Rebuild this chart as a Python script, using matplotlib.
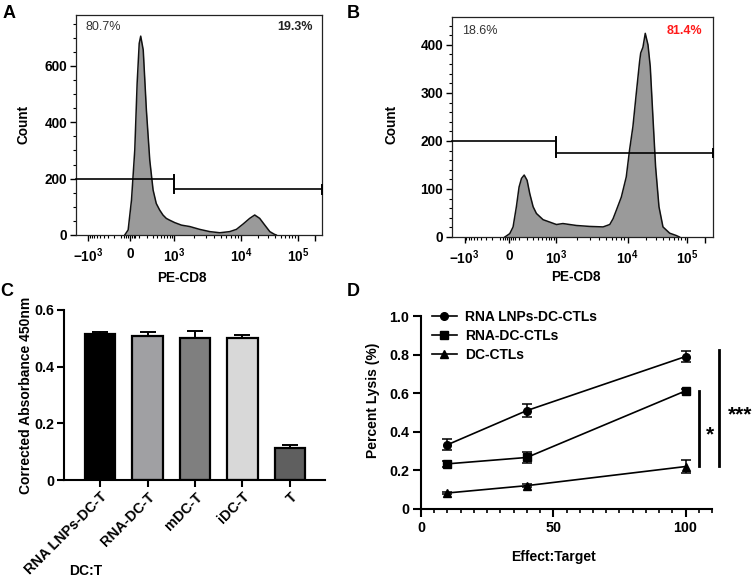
import numpy as np
import matplotlib
matplotlib.use('Agg')
import matplotlib.pyplot as plt
from matplotlib.ticker import FixedLocator, MultipleLocator

plt.rcParams['font.family'] = ['Liberation Sans', 'DejaVu Sans']
plt.rcParams['font.weight'] = 'bold'
plt.rcParams['axes.labelweight'] = 'bold'
plt.rcParams['mathtext.fontset'] = 'custom'
plt.rcParams['mathtext.rm'] = 'Liberation Sans:bold'
plt.rcParams['mathtext.bf'] = 'Liberation Sans:bold'
plt.rcParams['mathtext.it'] = 'Liberation Sans:bold:italic'

# --- data -------------------------------------------------------------
# A: PE-CD8 histogram, control
a_pe = [-56, -18, 18, 53, 79, 103, 121, 153, 197, 250, 310, 376, 457, 552, 664,
        789, 1030, 1300, 1730, 2420, 3410, 4800, 6710, 8430, 10700, 14000,
        17200, 21100, 26000, 31900, 38900, 41600]
a_count = [0, 18, 124, 302, 538, 680, 706, 657, 444, 266, 160, 112, 89, 71, 59,
           53, 44, 35, 30, 20, 12, 8, 12, 20, 39, 59, 71, 59, 35, 12, 2, 0]
a_pct = ['80.7%', '19.3%']

# B: PE-CD8 histogram, RNA LNPs
b_pe = [-44, 7, 40, 74, 103, 131, 164, 203, 243, 298, 361, 520, 737, 1020, 1260,
        1940, 2980, 4570, 5660, 6290, 7000, 8190, 9590, 10800, 12300, 14000,
        15900, 16600, 18100, 19800, 22000, 24000, 26600, 29500, 33600, 39200,
        50700, 65700, 74100]
b_count = [0, 7, 21, 63, 104, 122, 129, 118, 90, 63, 49, 36, 31, 26, 28,
           24, 22, 21, 26, 38, 56, 83, 125, 181, 230, 299,
           365, 383, 395, 424, 400, 355, 250, 146, 63, 21,
           8, 3, 0]
b_pct = ['18.6%', '81.4%']

# C: corrected absorbance
c_groups = ['RNA LNPs-DC-T', 'RNA-DC-T', 'mDC-T', 'iDC-T', 'T']
c_mean = [0.515, 0.510, 0.500, 0.500, 0.113]
c_err = [0.007, 0.012, 0.025, 0.013, 0.011]
c_colors = ['#000000', '#a0a0a3', '#7f7f7f', '#d8d8d8', '#5f5f5f']

# D: percent lysis
d_ratio = [10, 40, 100]
d_lnp = [0.333, 0.510, 0.790]
d_lnp_err = [0.028, 0.032, 0.028]
d_rna = [0.234, 0.267, 0.612]
d_rna_err = [0.015, 0.030, 0.010]
d_dc = [0.083, 0.121, 0.220]
d_dc_err = [0.005, 0.008, 0.035]

# --- flow cytometry (biexponential-like) scale -------------------------
KV = np.array([-1e4, -1e3, 0, 1e3, 1e4, 1e5, 1e6])
KU = np.array([-0.322, 0.0, 0.2, 0.41, 0.732, 1.0, 1.268])
KA = np.arcsinh(KV / 200.0)


def fwd(x):
    return np.interp(np.arcsinh(np.asarray(x, dtype=float) / 200.0), KA, KU)


def inv(u):
    return 200.0 * np.sinh(np.interp(np.asarray(u, dtype=float), KU, KA))


W, H = 753, 587


def box(l, t, r, b):
    return [l / W, 1 - b / H, (r - l) / W, (b - t) / H]


fig = plt.figure(figsize=(W / 100, H / 100), dpi=100)

x_major = [-1e3, 0, 1e3, 1e4, 1e5, 2e5]
x_labels = [r'$-10^3$', '0', r'$10^3$', r'$10^4$', r'$10^5$', '']
x_minor = ([-100 * k for k in range(1, 10)] + [100 * k for k in range(1, 10)]
           + [1000 * k for k in range(2, 10)] + [10000 * k for k in range(2, 10)]
           + [-60, -40, -20, 20, 40, 60])


def flow_panel(ax, pe, cnt, ytop, ymajor, yminor):
    ax.set_xscale('function', functions=(fwd, inv))
    ax.fill_between(pe, cnt, 0, color='#9a9a9a', lw=0, zorder=1)
    ax.plot(pe, cnt, color='#111111', lw=1.1, zorder=2)
    ax.set_xlim(-1500, 2.7e5)
    ax.set_ylim(0, ytop)
    ax.set_xticks(x_major, x_labels)
    ax.xaxis.set_minor_locator(FixedLocator(x_minor))
    ax.yaxis.set_major_locator(MultipleLocator(ymajor))
    ax.yaxis.set_minor_locator(MultipleLocator(yminor))
    ax.tick_params(which='major', length=4.5, width=1, labelsize=9.8, pad=2)
    ax.tick_params(axis='x', which='major', pad=4)
    ax.tick_params(which='minor', length=2.5, width=0.8)
    for s in ax.spines.values():
        s.set_linewidth(0.9)
        s.set_color('#222222')


def gate(ax, x0, x1, y, caps):
    ax.plot([x0, x1], [y, y], color='black', lw=1.2, clip_on=False, zorder=3)
    for xc, ylo, yhi in caps:
        ax.plot([xc, xc], [ylo, yhi], color='black', lw=1.4, clip_on=False, zorder=3)


# A
axA = fig.add_axes(box(76, 15, 322, 235))
flow_panel(axA, a_pe, a_count, 781, 200, 50)
gate(axA, -1500, 1000, 200, [(1000, 148, 213)])
gate(axA, 1000, 2.7e5, 162, [(2.7e5, 146, 177)])
fig.text(24 / W, 1 - 124 / H, 'Count', rotation=90, ha='center', va='center', fontsize=9.8)
fig.text(182 / W, 1 - 278 / H, 'PE-CD8', ha='center', va='center', fontsize=9.8)
fig.text(86 / W, 1 - 27.5 / H, a_pct[0], ha='left', va='center', fontsize=9,
         fontweight='normal', color='#333333')
fig.text(313 / W, 1 - 27.5 / H, a_pct[1], ha='right', va='center', fontsize=9, color='#222222')

# B
axB = fig.add_axes(box(452, 17, 713, 237))
flow_panel(axB, b_pe, b_count, 458, 100, 20)
gate(axB, -1500, 1000, 200, [(1000, 167, 209)])
gate(axB, 1000, 2.7e5, 175, [(2.7e5, 167, 184)])
fig.text(392 / W, 1 - 124 / H, 'Count', rotation=90, ha='center', va='center', fontsize=9.8)
fig.text(576 / W, 1 - 277 / H, 'PE-CD8', ha='center', va='center', fontsize=9.8)
fig.text(462 / W, 1 - 31 / H, b_pct[0], ha='left', va='center', fontsize=9,
         fontweight='normal', color='#333333')
fig.text(702 / W, 1 - 31 / H, b_pct[1], ha='right', va='center', fontsize=9, color='#ff1a1a')

# C
axC = fig.add_axes(box(64, 310, 325, 480))
xc = np.arange(len(c_groups))
axC.bar(xc, c_mean, width=0.64, color=c_colors, edgecolor='black', linewidth=1.6, zorder=2)
axC.errorbar(xc, c_mean, yerr=[np.zeros(len(c_err)), c_err], fmt='none', ecolor='black',
             elinewidth=1.4, capsize=6, capthick=1.4, zorder=3)
axC.set_xlim(-0.76, 4.74)
axC.set_ylim(0, 0.6)
axC.set_yticks([0, 0.2, 0.4, 0.6], ['0', '0.2', '0.4', '0.6'])
axC.set_xticks(xc, c_groups, rotation=45, ha='right', rotation_mode='anchor')
axC.tick_params(length=5, width=1.5, labelsize=10.3, pad=2)
axC.spines[['top', 'right']].set_visible(False)
axC.spines[['left', 'bottom']].set_linewidth(1.5)
axC.set_ylabel('Corrected Absorbance 450nm', fontsize=10)
axC.yaxis.set_label_coords((33 - 64) / 261, 0.5)
fig.text(86 / W, 1 - 571 / H, 'DC:T', ha='center', va='center', fontsize=10)

# D
axD = fig.add_axes(box(421, 316, 712, 509))
series = [(d_lnp, d_lnp_err, 'o', 'RNA LNPs-DC-CTLs'),
          (d_rna, d_rna_err, 's', 'RNA-DC-CTLs'),
          (d_dc, d_dc_err, '^', 'DC-CTLs')]
for vals, errs, mk, lab in series:
    axD.errorbar(d_ratio, vals, yerr=errs, fmt='none', ecolor='black',
                 elinewidth=1.1, capsize=3.5, capthick=1.1)
    axD.plot(d_ratio, vals, color='black', marker=mk, markersize=5.5, lw=1.2, label=lab)
axD.set_xlim(0, 110)
axD.set_ylim(0, 1.0)
axD.set_xticks([0, 50, 100], ['0', '50', '100'])
axD.xaxis.set_minor_locator(MultipleLocator(5))
axD.set_yticks([0, 0.2, 0.4, 0.6, 0.8, 1.0], ['0', '0.2', '0.4', '0.6', '0.8', '1.0'])
axD.tick_params(which='major', length=5.5, width=1.5, labelsize=10.3, pad=3)
axD.tick_params(which='minor', length=3, width=1.2)
axD.spines[['top', 'right']].set_visible(False)
axD.spines[['left', 'bottom']].set_linewidth(1.5)
axD.set_ylabel('Percent Lysis (%)', fontsize=10)
axD.yaxis.set_label_coords((380 - 421) / 291, (509 - 400) / 193)
fig.text(553 / W, 1 - 557 / H, 'Effect:Target', ha='center', va='center', fontsize=10)
axD.legend(loc='upper left', bbox_to_anchor=((432 - 421) / 291, (509 - 310) / 193),
           frameon=False, fontsize=10, handlelength=1.8, handletextpad=0.6,
           labelspacing=0.35, borderaxespad=0, borderpad=0)
axD.plot([105.2, 105.2], [0.224, 0.609], color='black', lw=2, clip_on=False)
axD.plot([112.6, 112.6], [0.224, 0.824], color='black', lw=2, clip_on=False)
axD.text(109.2, 0.383, '*', ha='center', va='center', fontsize=15)
axD.text(120.6, 0.49, '***', ha='center', va='center', fontsize=15)

# panel letters
for lab, px, py in [('A', 9, 13), ('B', 353, 13), ('C', 7, 291), ('D', 353, 291)]:
    fig.text(px / W, 1 - py / H, lab, ha='center', va='center', fontsize=13)

fig.savefig('out.png', dpi=100)
